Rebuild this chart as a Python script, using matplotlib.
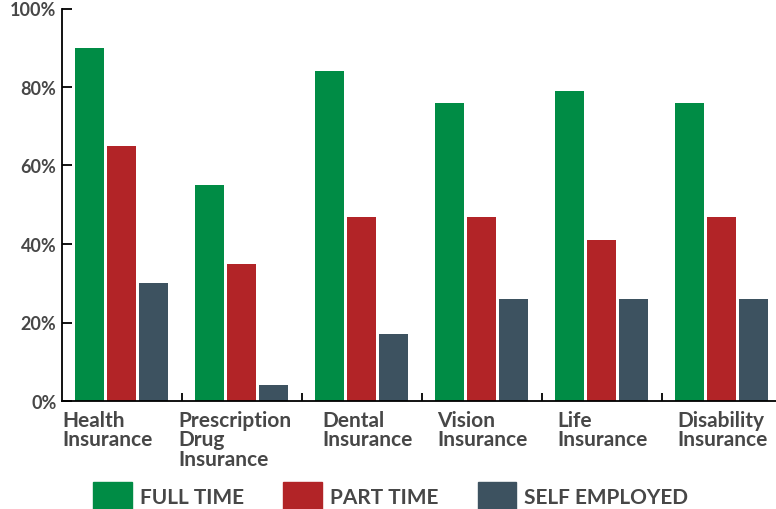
import numpy as np
import matplotlib
matplotlib.use("Agg")
import matplotlib.pyplot as plt
from matplotlib.patches import Patch
from matplotlib.transforms import blended_transform_factory

# Data
categories = ["Health\nInsurance", "Prescription\nDrug\nInsurance", "Dental\nInsurance",
              "Vision\nInsurance", "Life\nInsurance", "Disability\nInsurance"]
full_time = [90, 55, 84, 76, 79, 76]
part_time = [65, 35, 47, 47, 41, 47]
self_employed = [30, 4, 17, 26, 26, 26]
series_names = ["FULL TIME", "PART TIME", "SELF EMPLOYED"]
yticks = [0, 20, 40, 60, 80, 100]

# left edge of each category label, relative to the group centre (in group widths)
label_shift = [-0.496, -0.53, -0.33, -0.37, -0.37, -0.37]

colors = ["#008C45", "#B22427", "#3D5260"]
text_color = "#474747"

plt.rcParams['font.family'] = ['Lato', 'DejaVu Sans']

fig = plt.figure(figsize=(7.76, 5.10), dpi=100)
ax = fig.add_axes([62 / 776, 108 / 510, 1 - 62 / 776, (402 - 9.5) / 510])

x = np.arange(len(categories))
step = 32 / 120
width = 29 / 120
for k, vals in enumerate([full_time, part_time, self_employed]):
    ax.bar(x + (k - 1) * step, vals, width=width, color=colors[k], zorder=2)

ax.set_ylim(0, 100)
ax.set_xlim(-0.5, 5.454)
ax.set_yticks(yticks)
ax.set_yticklabels([f"{v}%" for v in yticks], fontsize=13, fontweight='bold', color=text_color)
ax.tick_params(axis='y', direction='in', length=7, width=1.3, pad=4)
ax.set_xticks(x[:-1] + 0.5)
ax.set_xticklabels([])
ax.tick_params(axis='x', direction='in', length=6, width=1.3)

for s in ['top', 'right']:
    ax.spines[s].set_visible(False)
for s in ['left', 'bottom']:
    ax.spines[s].set_linewidth(1.3)

trans = blended_transform_factory(ax.transData, ax.transAxes)
for i, lab in enumerate(categories):
    ax.text(i + label_shift[i], -0.022, lab, transform=trans, ha='left', va='top',
            fontsize=15, fontweight='bold', color=text_color, linespacing=0.98)

handles = [Patch(color=c) for c in colors]
leg = fig.legend(handles, series_names, loc='lower left', bbox_to_anchor=(85 / 776, -0.02),
                 ncol=3, frameon=False, handlelength=1.85, handleheight=1.75,
                 handletextpad=0.38, columnspacing=1.9, borderaxespad=0.0,
                 prop={'family': 'Lato', 'weight': 'bold', 'size': 15})
for t in leg.get_texts():
    t.set_color(text_color)

fig.savefig("out.png", dpi=100)
